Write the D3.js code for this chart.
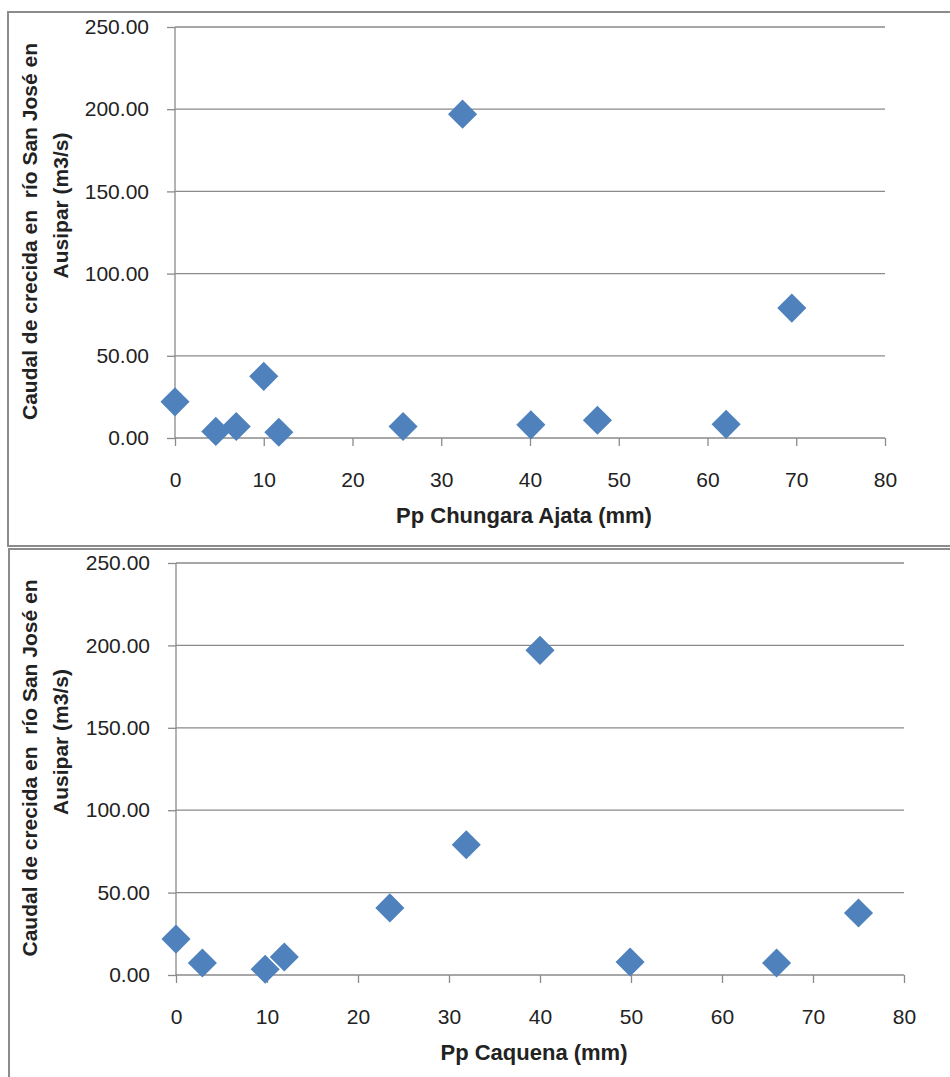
<!DOCTYPE html>
<html>
<head>
<meta charset="utf-8">
<script src="https://cdn.jsdelivr.net/npm/d3@7"></script>
<style>
  body { margin: 0; background: #fff; }
  svg text { font-family: "Liberation Sans", Arial, sans-serif; fill: #222; }
</style>
</head>
<body>
<div id="chart"></div>
<script>
// data
let chungaraX = [0, 4.6, 6.9, 10, 11.7, 25.7, 32.4, 40.1, 47.6, 62.1, 69.5];
let chungaraY = [22, 4, 7, 37.5, 3.5, 7, 197, 8, 10.8, 8.3, 79];
let caquenaX = [0, 2.9, 9.8, 11.9, 23.5, 31.9, 40, 49.9, 66, 75];
let caquenaY = [21.8, 7.3, 3.5, 10.9, 40.7, 79, 197, 7.9, 7.3, 37.6];
let xTicks = [0, 10, 20, 30, 40, 50, 60, 70, 80];
let yTicks = [0, 50, 100, 150, 200, 250];
let yTitle = ["Caudal de crecida en  río San José en", "Ausipar (m3/s)"];
let xTitles = ["Pp Chungara Ajata (mm)", "Pp Caquena (mm)"];

let W = 950, H = 1077;
let svg = d3.select("#chart").append("svg")
    .attr("width", W).attr("height", H);

// frames of the two chart boxes
svg.append("rect").attr("x", 8).attr("y", 12).attr("width", 960).attr("height", 534)
    .attr("fill", "none").attr("stroke", "#8c8c8c").attr("stroke-width", 2);
svg.append("rect").attr("x", 9).attr("y", 549).attr("width", 960).attr("height", 560)
    .attr("fill", "none").attr("stroke", "#8c8c8c").attr("stroke-width", 2);

var drawPanel = (xs, ys, title, box) => {
    let x = d3.scaleLinear().domain([0, 80]).range([box.left, box.right]);
    let y = d3.scaleLinear().domain([0, 250]).range([box.bottom, box.top]);
    let g = svg.append("g");

    // horizontal gridlines
    g.selectAll(".grid").data(yTicks.slice(1)).enter().append("line")
        .attr("x1", box.left).attr("x2", box.right)
        .attr("y1", d => y(d)).attr("y2", d => y(d))
        .attr("stroke", "#8a8a8a").attr("stroke-width", 1.3);

    // y axis
    let yAxis = g.append("g").attr("transform", "translate(" + box.left + ",0)")
        .call(d3.axisLeft(y).tickValues(yTicks).tickSize(8).tickPadding(18)
            .tickFormat(d3.format(".2f")));
    // x axis
    let xAxis = g.append("g").attr("transform", "translate(0," + box.bottom + ")")
        .call(d3.axisBottom(x).tickValues(xTicks).tickSize(8).tickPadding(26));

    [yAxis, xAxis].forEach(a => {
        a.select(".domain").attr("stroke", "#8a8a8a").attr("stroke-width", 1.3);
        a.selectAll(".tick line").attr("stroke", "#8a8a8a").attr("stroke-width", 1.3);
        a.selectAll("text").style("font-size", "21px").attr("fill", "#222");
    });
    yAxis.select(".domain").attr("d", "M0," + box.bottom + "V" + box.top);
    xAxis.select(".domain").attr("d", "M" + box.left + ",0H" + box.right);

    // points as diamonds
    let diamond = d3.symbol().type(d3.symbolDiamond2).size(540);
    g.selectAll(".pt").data(xs.map((d, i) => [d, ys[i]])).enter().append("path")
        .attr("d", diamond)
        .attr("transform", d => "translate(" + x(d[0]) + "," + y(d[1]) + ")")
        .attr("fill", "#4f81bd");

    // titles
    g.append("text").attr("x", (box.left + box.right) / 2 - 6).attr("y", box.bottom + 85)
        .attr("text-anchor", "middle").style("font-size", "22px").style("font-weight", "bold")
        .text(title);
    let mid = (box.top + box.bottom) / 2;
    g.append("text").attr("transform", "translate(37," + (mid - 1) + ") rotate(-90)")
        .attr("text-anchor", "middle").style("font-size", "21px").style("font-weight", "bold")
        .attr("xml:space", "preserve")
        .text(yTitle[0]);
    g.append("text").attr("transform", "translate(68," + (mid - 27) + ") rotate(-90)")
        .attr("text-anchor", "middle").style("font-size", "21px").style("font-weight", "bold")
        .text(yTitle[1]);
};

drawPanel(chungaraX, chungaraY, xTitles[0], {left: 175, right: 885, top: 27, bottom: 438});
drawPanel(caquenaX, caquenaY, xTitles[1], {left: 176, right: 904, top: 563, bottom: 975});
</script>
</body>
</html>
